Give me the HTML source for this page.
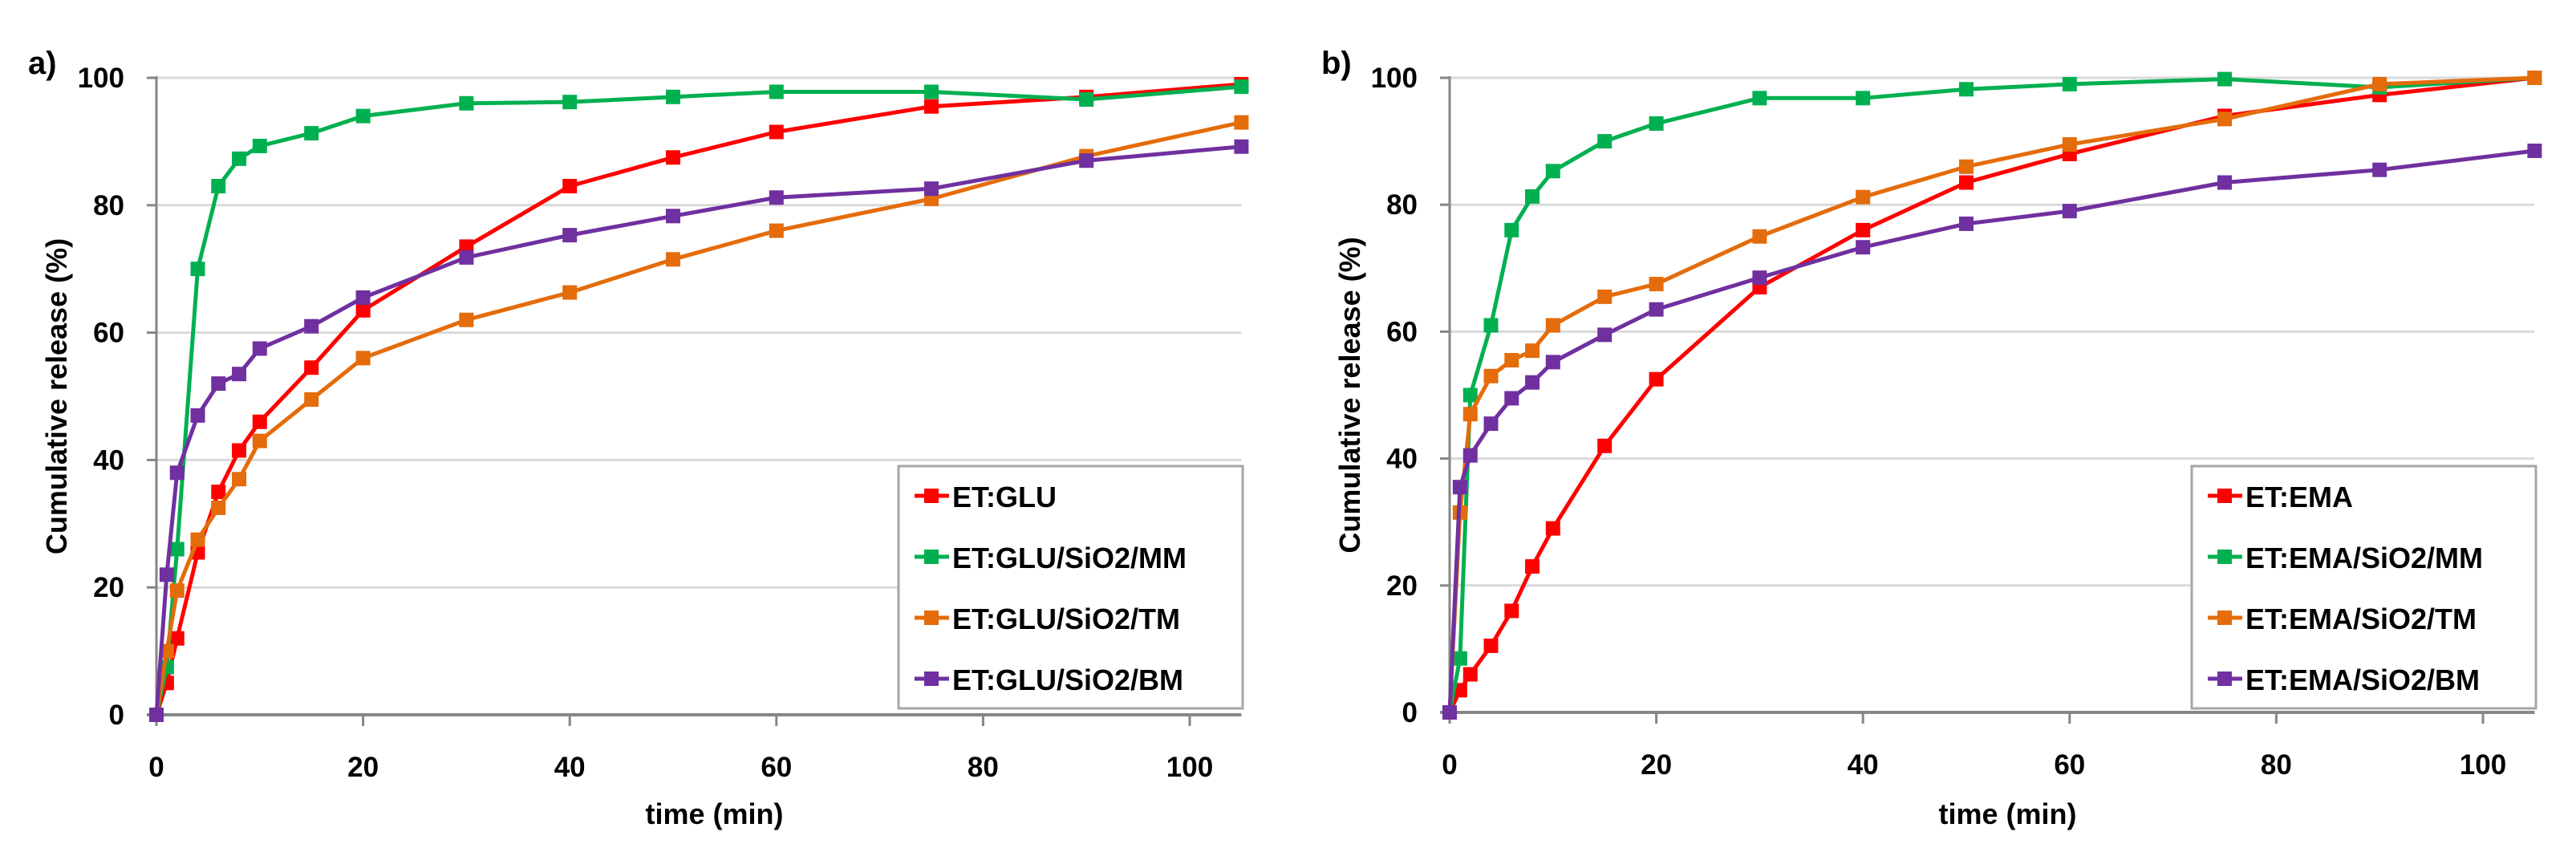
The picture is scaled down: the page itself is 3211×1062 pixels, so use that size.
<!DOCTYPE html>
<html><head><meta charset="utf-8"><style>
html,body{margin:0;padding:0;background:#fff;width:3211px;height:1062px;overflow:hidden}
svg text{font-family:"Liberation Sans",sans-serif;font-weight:bold;fill:#000}
</style></head><body>
<svg id="chart" width="3211" height="1062" viewBox="0 0 3211 1062" xmlns="http://www.w3.org/2000/svg"></svg>
<script>
const times = [0,1,2,4,6,8,10,15,20,30,40,50,60,75,90,105];
const xTicks = [0,20,40,60,80,100];
const yTicks = [0,20,40,60,80,100];
const glu = [0,5,12,25.5,35,41.5,46,54.5,63.5,73.5,83,87.5,91.5,95.5,97,99];
const gluMM = [0,7.5,26,70,83,87.3,89.3,91.3,94,96,96.2,97,97.8,97.8,96.6,98.6];
const gluTM = [0,10,19.5,27.5,32.5,37,43,49.5,56,62,66.3,71.5,76,81,87.7,93];
const gluBM = [0,22,38,47,52,53.5,57.5,61,65.5,71.8,75.3,78.3,81.2,82.6,87,89.2];
const ema = [0,3.5,6,10.5,16,23,29,42,52.5,67,76,83.5,88,94,97.3,100];
const emaMM = [0,8.5,50,61,76,81.3,85.3,90,92.8,96.8,96.8,98.2,99,99.8,98.5,100];
const emaTM = [0,31.5,47,53,55.5,57,61,65.5,67.5,75,81.2,86,89.5,93.5,99,100];
const emaBM = [0,35.5,40.5,45.5,49.5,52,55.2,59.5,63.5,68.5,73.3,77,79,83.5,85.5,88.5];
const gluNames = ["ET:GLU","ET:GLU/SiO2/MM","ET:GLU/SiO2/TM","ET:GLU/SiO2/BM"];
const emaNames = ["ET:EMA","ET:EMA/SiO2/MM","ET:EMA/SiO2/TM","ET:EMA/SiO2/BM"];
const colors = ["#ff0000","#00b050","#e46c0a","#7030a0"];

const NS="http://www.w3.org/2000/svg";
const svg=document.getElementById('chart');
function mk(tag,attrs,parent){const e=document.createElementNS(NS,tag);for(const k in attrs)e.setAttribute(k,attrs[k]);(parent||svg).appendChild(e);return e;}

function panel(ox, y0px, label, names, series, key){
  const g=mk('g',{});
  
  
  const x0=ox, pxPerX=12.88, y100=97;
  const sx=v=>x0+v*pxPerX;
  const sy=v=>y0px-(y0px-y100)*v/100;
  const xEnd=sx(105);
  yTicks.forEach(t=>{
    if(t>0){const l=mk('line',{x1:x0,x2:xEnd,y1:sy(t),y2:sy(t),stroke:'#d9d9d9','stroke-width':3},g);
    
    }
    const tk=mk('line',{x1:x0-12,x2:x0,y1:sy(t),y2:sy(t),stroke:'#868686','stroke-width':3},g);
    
    
    const tx=mk('text',{x:x0-40,y:sy(t)+12,'text-anchor':'end','font-size':35},g);
    tx.textContent=t;
    
    
  });
  xTicks.forEach(t=>{
    const tk=mk('line',{x1:sx(t),x2:sx(t),y1:y0px,y2:y0px+14,stroke:'#868686','stroke-width':3},g);
    
    
    const tx=mk('text',{x:sx(t),y:y0px+77,'text-anchor':'middle','font-size':35},g);
    tx.textContent=t;
    
    
  });
  const ya=mk('line',{x1:x0,x2:x0,y1:y100-2,y2:y0px,stroke:'#868686','stroke-width':3},g);
  
  
  const xa=mk('line',{x1:x0-12,x2:xEnd,y1:y0px,y2:y0px,stroke:'#868686','stroke-width':4},g);
  
  
  const yt=mk('text',{x:0,y:0,'text-anchor':'middle','font-size':36,transform:`translate(${x0-112},${(y0px+y100)/2}) rotate(-90)`},g);
  yt.textContent='Cumulative release  (%)';
  
  
  const xt=mk('text',{x:sx(54),y:1027,'text-anchor':'middle','font-size':36},g);
  xt.textContent='time (min)';
  
  
  const pl=mk('text',{x:x0-160,y:92,'font-size':40},g);
  pl.textContent=label;
  
  
  series.forEach((s,i)=>{
    const sg=mk('g',{},g);
    
    
    const pts=s.map((v,j)=>sx(times[j])+','+sy(v)).join(' ');
    const pol=mk('polyline',{points:pts,fill:'none',stroke:colors[i],'stroke-width':5,'stroke-linejoin':'round'},sg);
    
    
    s.forEach((v,j)=>{
      const r=mk('rect',{x:sx(times[j])-9,y:sy(v)-9,width:18,height:18,fill:colors[i]},sg);
      
      
    });
  });
  const lg=mk('g',{},g);
  
  
  const lx=x0+925;
  mk('rect',{x:lx,y:581,width:429,height:302,fill:'#fff',stroke:'#a6a6a6','stroke-width':3},lg);
  names.forEach((n,i)=>{
    const ey=618+i*76;
    const e=mk('g',{},lg);
    
    
    mk('line',{x1:lx+20,x2:lx+63,y1:ey,y2:ey,stroke:colors[i],'stroke-width':5},e);
    mk('rect',{x:lx+32,y:ey-9,width:18,height:18,fill:colors[i]},e);
    const t=mk('text',{x:lx+67,y:ey+14,'font-size':36},e);
    t.textContent=n;
  });
}
panel(195,891,'a)',gluNames,[glu,gluMM,gluTM,gluBM],'a');
panel(1807,888,'b)',emaNames,[ema,emaMM,emaTM,emaBM],'b');
</script>
</body></html>
